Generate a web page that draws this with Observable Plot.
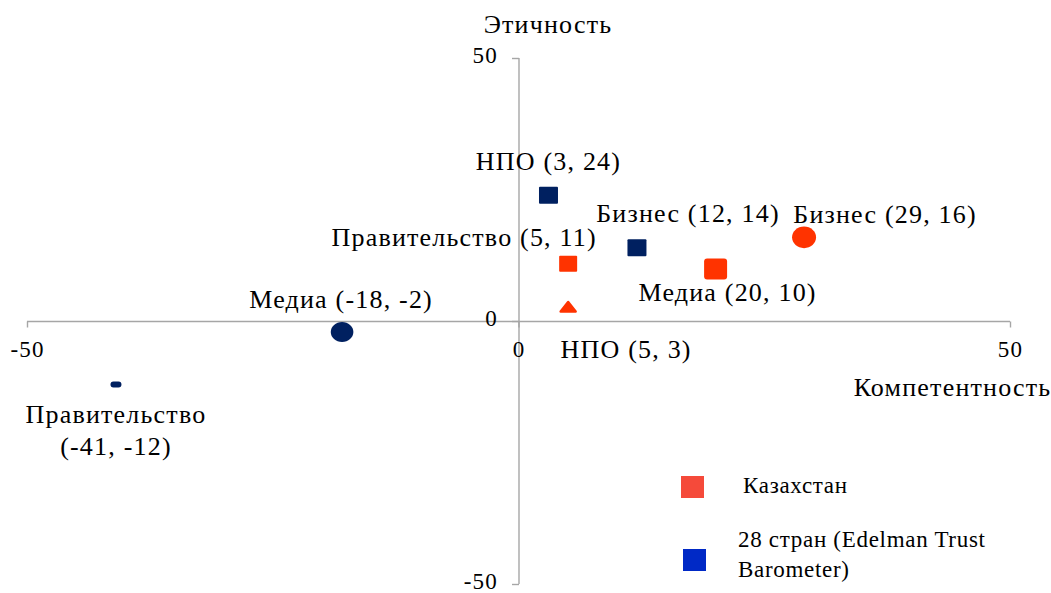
<!DOCTYPE html>
<html><head><meta charset="utf-8">
<script src="https://cdn.jsdelivr.net/npm/d3@7"></script>
<script src="https://cdn.jsdelivr.net/npm/@observablehq/plot@0.6"></script>
<style>
body{margin:0;background:#fff;}
#wrap{position:relative;width:1051px;height:593px;font-family:"Liberation Serif","Times New Roman",serif;}
#wrap svg text{font-family:"Liberation Serif","Times New Roman",serif !important;letter-spacing:1.2px;}
.lg{position:absolute;font-size:23px;line-height:30px;color:#000;letter-spacing:0.7px;}
.sw{position:absolute;width:23px;height:22px;}
</style></head><body><div id="wrap"></div>
<script>
// ---- data ----
const categories = ["Бизнес", "Медиа", "Правительство", "НПО"];
const seriesNames = ["Казахстан", "28 стран (Edelman Trust Barometer)"];
const kzCompetence = [29, 20, 5, 5];
const kzEthics = [16, 10, 11, 3];
const worldCompetence = [12, -18, -41, 3];
const worldEthics = [14, -2, -12, 24];
const xTicks = [-50, 0, 50];
const yTicks = [-50, 0, 50];
const xTitle = "Компетентность";
const yTitle = "Этичность";

// ---- styles ----
const pointColors = ["#ff3300", "#002060"];
const legendColors = ["#f54a3a", "#0029c6"];
const axisColor = "#a6a6a6";
const font = "'Liberation Serif', 'Times New Roman', serif";
const FS = 26;

function rrect(w, h, r) {
  return {draw(c) {
    const x0 = -w/2, y0 = -h/2, x1 = w/2, y1 = h/2;
    c.moveTo(x0 + r, y0); c.lineTo(x1 - r, y0); c.arcTo(x1, y0, x1, y0 + r, r);
    c.lineTo(x1, y1 - r); c.arcTo(x1, y1, x1 - r, y1, r);
    c.lineTo(x0 + r, y1); c.arcTo(x0, y1, x0, y1 - r, r);
    c.lineTo(x0, y0 + r); c.arcTo(x0, y0, x0 + r, y0, r); c.closePath();
  }};
}
function ellipse(rx, ry) {
  const k = 0.5523;
  return {draw(c) {
    c.moveTo(rx, 0);
    c.bezierCurveTo(rx, k * ry, k * rx, ry, 0, ry);
    c.bezierCurveTo(-k * rx, ry, -rx, k * ry, -rx, 0);
    c.bezierCurveTo(-rx, -k * ry, -k * rx, -ry, 0, -ry);
    c.bezierCurveTo(k * rx, -ry, rx, -k * ry, rx, 0);
    c.closePath();
  }};
}
function tri(w, h) {
  return {draw(c) {
    c.moveTo(-w/2, h/2); c.lineTo(0, -h/2); c.lineTo(w/2, h/2); c.closePath();
  }};
}
const tickDown = {draw(c) { c.moveTo(0, 0); c.lineTo(0, 6); }};
const tickLeft = {draw(c) { c.moveTo(0, 0); c.lineTo(-7, 0); }};

// marker shape and label offset per [series][category]
const markerSpec = [
  [ {sym: ellipse(12, 10.8), lx: 81, ly: -25},
    {sym: rrect(23, 21, 3), lx: 12, ly: 22},
    {sym: rrect(18, 16, 1), lx: -104, ly: -28},
    {sym: tri(15, 9.5), lx: 58, ly: 42, my: 1, round: true} ],
  [ {sym: rrect(19, 17, 1), lx: 51, ly: -36},
    {sym: ellipse(11.3, 10), lx: -1, ly: -34},
    {sym: rrect(11, 6, 3), lx: 0, ly: 44, multi: true},
    {sym: rrect(19, 17, 1), lx: 0, ly: -35} ]
];

const rows = [];
[[kzCompetence, kzEthics], [worldCompetence, worldEthics]].forEach(([cx, cy], s) => {
  categories.forEach((cat, i) => rows.push({series: s, cat, x: cx[i], y: cy[i], spec: markerSpec[s][i]}));
});

const marks = [
  Plot.ruleY([0], {stroke: axisColor, strokeWidth: 1.4}),
  Plot.ruleX([0], {stroke: axisColor, strokeWidth: 1.4}),
  Plot.dot(xTicks, {x: d => d, y: () => 0, symbol: tickDown, fill: "none", stroke: axisColor, strokeWidth: 1.4}),
  Plot.dot(yTicks, {x: () => 0, y: d => d, symbol: tickLeft, fill: "none", stroke: axisColor, strokeWidth: 1.4}),
  Plot.text(xTicks, {x: d => d, y: () => 0, text: d => String(d), dy: 28, fontSize: 23, fontFamily: font, fill: "#000"}),
  Plot.text(yTicks, {x: () => 0, y: d => d, text: d => String(d), dx: -21, dy: -3, textAnchor: "end", fontSize: 23, fontFamily: font, fill: "#000"}),
  Plot.text([yTitle], {frameAnchor: "top", lineAnchor: "middle", textAnchor: "middle", text: d => d, dx: 29, dy: -34, fontSize: FS, fontFamily: font, fill: "#000"}),
  Plot.text([xTitle], {frameAnchor: "right", lineAnchor: "middle", textAnchor: "middle", text: d => d, dx: -58, dy: 66, fontSize: FS, fontFamily: font, fill: "#000"})
];
rows.forEach(r => {
  const c = pointColors[r.series];
  marks.push(Plot.dot([r], r.spec.round
    ? {x: "x", y: "y", symbol: r.spec.sym, fill: c, stroke: c, strokeWidth: 2.5, strokeLinejoin: "round", dy: r.spec.my || 0}
    : {x: "x", y: "y", symbol: r.spec.sym, fill: c, stroke: "none", dy: r.spec.my || 0}));
  const label = r.spec.multi ? `${r.cat}\n(${r.x}, ${r.y})` : `${r.cat} (${r.x}, ${r.y})`;
  marks.push(Plot.text([r], {x: "x", y: "y", text: () => label, dx: r.spec.lx, dy: r.spec.ly, lineHeight: 1.23, fontSize: FS, fontFamily: font, fill: "#000"}));
});

const chart = Plot.plot({
  width: 1051, height: 593,
  marginLeft: 27, marginRight: 41, marginTop: 58, marginBottom: 9,
  x: {domain: [-50, 50], axis: null},
  y: {domain: [-50, 50], axis: null},
  style: {background: "white", fontFamily: font, overflow: "visible"},
  marks
});
const wrap = document.getElementById("wrap");
wrap.appendChild(chart);

// legend (HTML overlay)
const legendPos = [{sx: 681, sy: 476, tx: 743, ty: 471}, {sx: 683, sy: 549, tx: 738, ty: 525}];
seriesNames.forEach((name, i) => {
  const sw = document.createElement("div");
  sw.className = "sw";
  sw.style.left = legendPos[i].sx + "px"; sw.style.top = legendPos[i].sy + "px";
  sw.style.background = legendColors[i];
  wrap.appendChild(sw);
  const t = document.createElement("div");
  t.className = "lg";
  t.style.left = legendPos[i].tx + "px"; t.style.top = legendPos[i].ty + "px";
  t.style.width = "270px";
  t.textContent = name;
  wrap.appendChild(t);
});
</script></body></html>
